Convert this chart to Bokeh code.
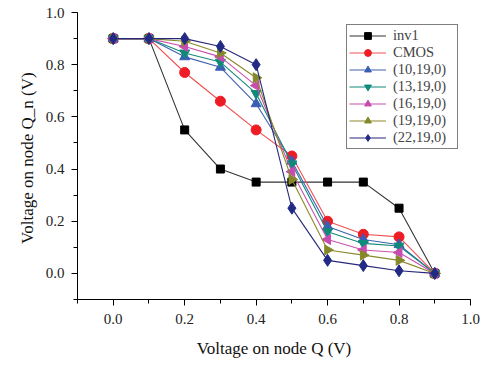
import math
from bokeh.plotting import figure
from bokeh.models import SingleIntervalTicker, PrintfTickFormatter, Legend, LegendItem, Range1d
from bokeh.embed import file_html
from bokeh.resources import INLINE

x_vals = [0.0, 0.1, 0.2, 0.3, 0.4, 0.5, 0.6, 0.7, 0.8, 0.9]
inv1 = [0.9, 0.9, 0.55, 0.40, 0.35, 0.35, 0.35, 0.35, 0.25, 0.0]
cmos = [0.9, 0.9, 0.77, 0.66, 0.55, 0.45, 0.20, 0.15, 0.14, 0.0]
s10 = [0.9, 0.9, 0.83, 0.79, 0.65, 0.43, 0.18, 0.13, 0.11, 0.0]
s13 = [0.9, 0.9, 0.845, 0.81, 0.69, 0.42, 0.16, 0.115, 0.105, 0.0]
s16 = [0.9, 0.9, 0.87, 0.83, 0.72, 0.39, 0.13, 0.09, 0.08, 0.0]
s19 = [0.9, 0.9, 0.89, 0.845, 0.75, 0.36, 0.09, 0.07, 0.05, 0.0]
s22 = [0.9, 0.9, 0.9, 0.87, 0.80, 0.25, 0.05, 0.03, 0.01, 0.0]

series = [
    ("inv1", inv1, "#333333", "#000000", "square", 0.0, 8),
    ("CMOS", cmos, "#f05050", "#ee1c24", "circle", 0.0, 10),
    ("(10,19,0)", s10, "#4060b0", "#3a5db5", "triangle", 0.0, 10),
    ("(13,19,0)", s13, "#138a7a", "#108a78", "inverted_triangle", 0.0, 10),
    ("(16,19,0)", s16, "#c850b0", "#c84bb0", "triangle", math.pi / 2, 10),
    ("(19,19,0)", s19, "#8a8a2a", "#85882a", "triangle", -math.pi / 2, 10),
    ("(22,19,0)", s22, "#26287a", "#222a86", "diamond", 0.0, 12),
]

p = figure(width=500, height=366, output_backend="svg", toolbar_location=None,
           x_range=Range1d(-0.1, 1.0), y_range=Range1d(-0.1, 1.0),
           min_border_left=77, min_border_right=30, min_border_top=12, min_border_bottom=67)
p.outline_line_color = None
p.grid.visible = False
p.background_fill_color = "white"

items = []
for name, ys, lc, mc, marker, ang, sz in series:
    r1 = p.line(x_vals, ys, line_color=lc, line_width=1.1)
    r2 = p.scatter(x_vals, ys, marker=marker, angle=ang, size=sz, fill_color=mc, line_color=mc)
    items.append(LegendItem(label=name, renderers=[r1, r2]))

legend = Legend(items=items, location=(269, 150), border_line_color="black", border_line_width=1,
                label_text_font="Liberation Serif", label_text_font_size="14.5px",
                glyph_width=37, glyph_height=17, label_height=17, label_width=62,
                spacing=0, padding=2, margin=0,
                label_standoff=7, background_fill_alpha=1.0)
p.add_layout(legend)

for ax in (p.xaxis[0], p.yaxis[0]):
    ax.ticker = SingleIntervalTicker(interval=0.2, num_minor_ticks=2)
    ax.formatter = PrintfTickFormatter(format="%.1f")
    ax.major_label_text_font = "Liberation Serif"
    ax.major_label_text_font_size = "15px"
    ax.major_label_text_color = "#222222"
    ax.axis_label_text_font = "Liberation Serif"
    ax.axis_label_text_font_size = "17px"
    ax.axis_label_text_font_style = "normal"
    ax.axis_label_text_color = "#111111"
    ax.major_tick_out = 6
    ax.major_tick_in = 0
    ax.minor_tick_out = 4
    ax.minor_tick_in = 0
    ax.axis_line_color = "black"
    ax.major_tick_line_color = "black"
    ax.minor_tick_line_color = "black"

p.xaxis.axis_label = "Voltage on node Q (V)"
p.yaxis.axis_label = "Voltage on node Q_n  (V)"
p.xaxis.major_label_standoff = 8
p.xaxis.axis_label_standoff = 12
p.yaxis.major_label_standoff = 7
p.yaxis.axis_label_standoff = 6

open("out.html", "w").write(file_html(p, INLINE))
